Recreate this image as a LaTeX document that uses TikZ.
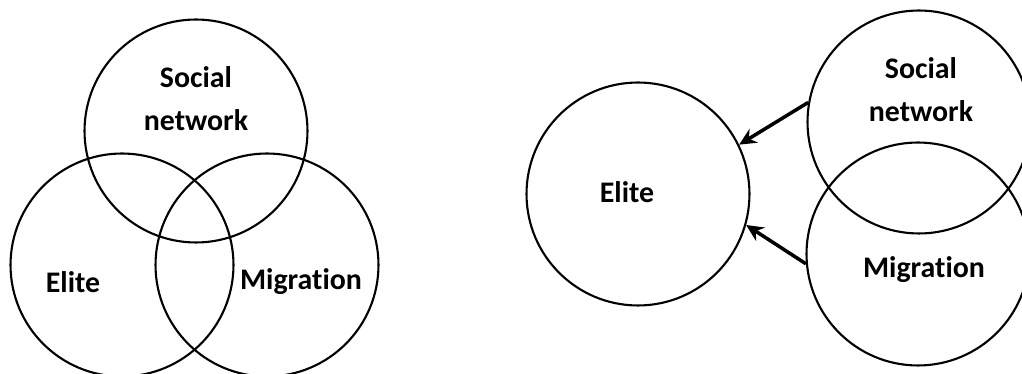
\documentclass[tikz,border=0pt]{standalone}
\usepackage{fontspec}
\setmainfont{Carlito}[Ligatures=CommonOff]
\usetikzlibrary{arrows.meta}

\begin{document}
\begin{tikzpicture}[
    x=0.02cm, y=-0.02cm,
    every node/.style={font=\bfseries\fontsize{17}{24.5}\selectfont},
    ring/.style={draw, circle, line width=1.2pt, minimum size=4.46cm, inner sep=0pt},
    lbl/.style={align=center, inner sep=0pt},
    push/.style={-{Stealth[length=0.34cm,width=0.32cm]}, line width=2pt}
  ]
    \useasboundingbox (0,0) rectangle (1022,374);

    % overlapping view
    \node[ring] (snA) at (196,131) {};
    \node[ring] (elA) at (122,265) {};
    \node[ring] (miA) at (267,265) {};
    \node[lbl] (snAtxt) at (196,99) {Social\\network};
    \node[lbl] (elAtxt) at (73,282) {Elite};
    \node[lbl] (miAtxt) at (301,282) {Migration};

    % influence view
    \node[ring] (elB) at (638,194) {};
    \node[ring] (snB) at (919,122) {};
    \node[ring] (miB) at (918,254) {};
    \node[lbl] (elBtxt) at (627,192) {Elite};
    \node[lbl] (snBtxt) at (921,90) {Social\\network};
    \node[lbl] (miBtxt) at (924,270) {Migration};

    \draw[push] (snB.170) -- (elB.26);
    \draw[push] (miB.185) -- (elB.-16);
  \end{tikzpicture}
\end{document}
